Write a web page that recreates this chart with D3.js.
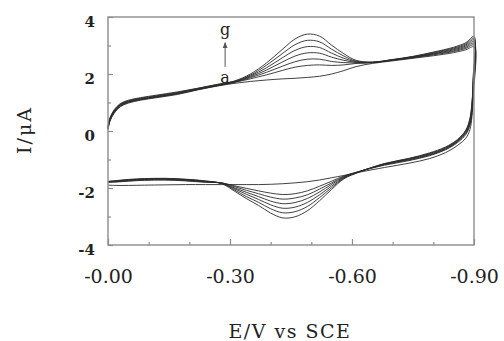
<!DOCTYPE html>
<html>
<head>
<meta charset="utf-8">
<script src="https://cdn.jsdelivr.net/npm/d3@7"></script>
<style>
  body { margin: 0; background: #fff; }
  svg { display: block; }
  text { font-family: 'DejaVu Serif', 'Liberation Serif', serif; fill: #222; }
</style>
</head>
<body>
<svg id="chart" width="504" height="341"></svg>
<script>
// potential grid (magnitude of -E, V) for forward scan
const fwdE = [0, 0.005, 0.015, 0.03, 0.05, 0.08, 0.12, 0.17, 0.22, 0.27,
  0.31, 0.35, 0.39, 0.43, 0.46, 0.49, 0.52, 0.55, 0.58, 0.61,
  0.65, 0.70, 0.75, 0.80, 0.85, 0.88, 0.90];

// forward currents (uA), curves a..g
const fwdA = [0.05, 0.35, 0.62, 0.85, 0.98, 1.08, 1.17, 1.28, 1.44, 1.58,
  1.67, 1.74, 1.79, 1.83, 1.85, 1.88, 1.92, 2.00, 2.12, 2.26,
  2.37, 2.46, 2.55, 2.64, 2.75, 2.85, 2.95];
const fwdB = [0.07, 0.37, 0.64, 0.87, 1.00, 1.10, 1.19, 1.30, 1.45, 1.59,
  1.70, 1.83, 1.97, 2.13, 2.24, 2.30, 2.32, 2.30, 2.32, 2.37,
  2.40, 2.48, 2.57, 2.67, 2.79, 2.90, 3.02];
const fwdC = [0.09, 0.39, 0.66, 0.89, 1.02, 1.11, 1.20, 1.31, 1.46, 1.60,
  1.71, 1.87, 2.06, 2.28, 2.43, 2.52, 2.52, 2.44, 2.40, 2.39,
  2.40, 2.49, 2.58, 2.69, 2.82, 2.94, 3.08];
const fwdD = [0.10, 0.41, 0.68, 0.90, 1.03, 1.12, 1.21, 1.32, 1.47, 1.61,
  1.72, 1.90, 2.14, 2.43, 2.63, 2.74, 2.73, 2.59, 2.48, 2.41,
  2.40, 2.49, 2.59, 2.71, 2.85, 2.98, 3.14];
const fwdEc = [0.12, 0.43, 0.70, 0.92, 1.04, 1.13, 1.22, 1.33, 1.48, 1.62,
  1.73, 1.93, 2.22, 2.58, 2.83, 2.96, 2.93, 2.73, 2.55, 2.43,
  2.41, 2.50, 2.60, 2.73, 2.88, 3.02, 3.20];
const fwdF = [0.14, 0.45, 0.72, 0.94, 1.06, 1.15, 1.24, 1.35, 1.49, 1.63,
  1.74, 1.96, 2.31, 2.73, 3.03, 3.18, 3.13, 2.87, 2.63, 2.45,
  2.41, 2.50, 2.61, 2.75, 2.91, 3.06, 3.26];
const fwdG = [0.16, 0.47, 0.74, 0.96, 1.08, 1.17, 1.26, 1.37, 1.50, 1.64,
  1.75, 2.00, 2.39, 2.88, 3.23, 3.40, 3.33, 3.01, 2.71, 2.48,
  2.42, 2.51, 2.62, 2.77, 2.94, 3.10, 3.32];

// reverse scan grid
const revE = [0.898, 0.895, 0.89, 0.88, 0.86, 0.83, 0.79, 0.74, 0.68,
  0.62, 0.58, 0.55, 0.52, 0.49, 0.46, 0.43, 0.40, 0.37, 0.34, 0.31, 0.28,
  0.24, 0.19, 0.14, 0.09, 0.05, 0.02, 0.0];

const revA = [1.2, 0.5, 0.05, -0.25, -0.50, -0.76, -0.97, -1.13, -1.28,
  -1.44, -1.56, -1.64, -1.72, -1.78, -1.82, -1.85, -1.87, -1.88, -1.88, -1.88, -1.88,
  -1.88, -1.88, -1.89, -1.90, -1.91, -1.91, -1.90];
const revB = [1.4, 0.65, 0.2, -0.12, -0.40, -0.66, -0.87, -1.04, -1.20,
  -1.41, -1.58, -1.76, -1.94, -2.10, -2.20, -2.23, -2.18, -2.10, -2.01, -1.92, -1.82,
  -1.80, -1.75, -1.72, -1.73, -1.76, -1.79, -1.80];
const revC = [1.5, 0.72, 0.25, -0.08, -0.37, -0.64, -0.85, -1.02, -1.18,
  -1.41, -1.60, -1.82, -2.04, -2.24, -2.35, -2.39, -2.32, -2.20, -2.08, -1.95, -1.82,
  -1.79, -1.74, -1.71, -1.72, -1.75, -1.78, -1.79];
const revD = [1.6, 0.8, 0.3, -0.05, -0.35, -0.62, -0.83, -1.00, -1.17,
  -1.42, -1.62, -1.87, -2.14, -2.37, -2.51, -2.55, -2.46, -2.30, -2.15, -1.99, -1.83,
  -1.78, -1.72, -1.69, -1.70, -1.73, -1.77, -1.78];
const revEc = [1.7, 0.88, 0.35, -0.02, -0.33, -0.60, -0.81, -0.98, -1.16,
  -1.42, -1.64, -1.93, -2.24, -2.51, -2.67, -2.71, -2.59, -2.40, -2.22, -2.02, -1.84,
  -1.77, -1.71, -1.68, -1.69, -1.72, -1.76, -1.78];
const revF = [1.8, 0.95, 0.4, 0.01, -0.31, -0.58, -0.79, -0.97, -1.15,
  -1.42, -1.66, -1.99, -2.34, -2.65, -2.83, -2.87, -2.73, -2.50, -2.30, -2.06, -1.84,
  -1.76, -1.70, -1.67, -1.68, -1.71, -1.75, -1.77];
const revG = [1.9, 1.0, 0.45, 0.04, -0.29, -0.56, -0.77, -0.96, -1.14,
  -1.43, -1.68, -2.05, -2.45, -2.80, -3.01, -3.05, -2.88, -2.61, -2.37, -2.10, -1.85,
  -1.75, -1.69, -1.66, -1.67, -1.70, -1.74, -1.77];

const curveNames = ['a', 'b', 'c', 'd', 'e', 'f', 'g'];
const fwdSets = [fwdA, fwdB, fwdC, fwdD, fwdEc, fwdF, fwdG];
const revSets = [revA, revB, revC, revD, revEc, revF, revG];

const xMajor = [0, 0.3, 0.6, 0.9];
const xMinor = [0.1, 0.2, 0.4, 0.5, 0.7, 0.8];
const yMajor = [-4, -2, 0, 2, 4];
const yMinor = [-3, -1, 1, 3];

const xTitle = 'E/V vs SCE';
const yTitle = 'I/\u03bcA';

const plot = { left: 108, right: 474, top: 17, bottom: 245 };
const frameColor = '#8c8c8c';

const svg = d3.select('#chart');

const x = d3.scaleLinear().domain([0, 0.9]).range([plot.left, plot.right]);
const y = d3.scaleLinear().domain([-4, 4]).range([plot.bottom, plot.top]);

// curves
const line = d3.line()
  .x(d => x(d[0]))
  .y(d => y(d[1]))
  .curve(d3.curveCatmullRom.alpha(0.5));

const curves = curveNames.map((name, k) => ({
  name,
  points: fwdE.map((e, i) => [e, fwdSets[k][i]])
    .concat(revE.map((e, i) => [e, revSets[k][i]]))
}));

svg.append('g')
  .selectAll('path')
  .data(curves)
  .join('path')
  .attr('fill', 'none')
  .attr('stroke', '#2b2b2b')
  .attr('stroke-width', 0.9)
  .attr('d', d => line(d.points));

// axes, ticks pointing inward
const xAxisG = svg.append('g').attr('transform', `translate(0,${plot.bottom})`);
xAxisG.call(d3.axisBottom(x).tickValues(xMajor).tickSize(-6).tickPadding(25)
  .tickFormat(d => '-' + d.toFixed(2)));
xAxisG.selectAll('text').attr('font-size', 19).style('font-family', 'DejaVu Serif');

const xMinorG = svg.append('g').attr('transform', `translate(0,${plot.bottom})`);
xMinorG.call(d3.axisBottom(x).tickValues(xMinor).tickSize(-3).tickFormat(() => ''));

const yAxisG = svg.append('g').attr('transform', `translate(${plot.left},0)`);
yAxisG.call(d3.axisLeft(y).tickValues(yMajor).tickSize(-5).tickPadding(13)
  .tickFormat(d3.format('d')));
yAxisG.selectAll('text')
  .attr('font-size', 15)
  .attr('font-weight', 'bold')
  .attr('dy', '0.6em')
  .style('font-family', 'DejaVu Serif')
  .text(d => d < 0 ? '-' + Math.abs(d) : d);

const yMinorG = svg.append('g').attr('transform', `translate(${plot.left},0)`);
yMinorG.call(d3.axisLeft(y).tickValues(yMinor).tickSize(-3).tickFormat(() => ''));

svg.selectAll('.domain').remove();
svg.selectAll('.tick line').attr('stroke', frameColor).attr('stroke-width', 1.2);
svg.selectAll('.tick text').attr('fill', '#222');

// frame
svg.append('rect')
  .attr('x', plot.left)
  .attr('y', plot.top)
  .attr('width', plot.right - plot.left)
  .attr('height', plot.bottom - plot.top)
  .attr('fill', 'none')
  .attr('stroke', frameColor)
  .attr('stroke-width', 1.4);

// titles
svg.append('text')
  .attr('x', 290)
  .attr('y', 338)
  .attr('text-anchor', 'middle')
  .attr('font-size', 19)
  .attr('letter-spacing', 1.5)
  .text(xTitle);

svg.append('text')
  .attr('transform', 'translate(31,130) rotate(-90)')
  .attr('text-anchor', 'middle')
  .attr('font-size', 19)
  .attr('letter-spacing', 2)
  .text(yTitle);

// a -> g annotation
const annE = 0.288;
svg.append('defs').append('marker')
  .attr('id', 'arrow')
  .attr('viewBox', '0 0 10 10')
  .attr('refX', 9).attr('refY', 5)
  .attr('markerWidth', 6).attr('markerHeight', 6)
  .attr('orient', 'auto')
  .append('path')
  .attr('d', 'M0,1L10,5L0,9z')
  .attr('fill', '#555');

svg.append('line')
  .attr('x1', x(annE)).attr('x2', x(annE))
  .attr('y1', y(2.25)).attr('y2', y(3.1))
  .attr('stroke', '#555')
  .attr('stroke-width', 1)
  .attr('marker-end', 'url(#arrow)');

svg.append('text')
  .attr('x', x(annE)).attr('y', y(3.37))
  .attr('text-anchor', 'middle')
  .attr('font-size', 16)
  .text('g');

svg.append('text')
  .attr('x', x(annE)).attr('y', y(1.68))
  .attr('text-anchor', 'middle')
  .attr('font-size', 16)
  .text('a');
</script>
</body>
</html>
